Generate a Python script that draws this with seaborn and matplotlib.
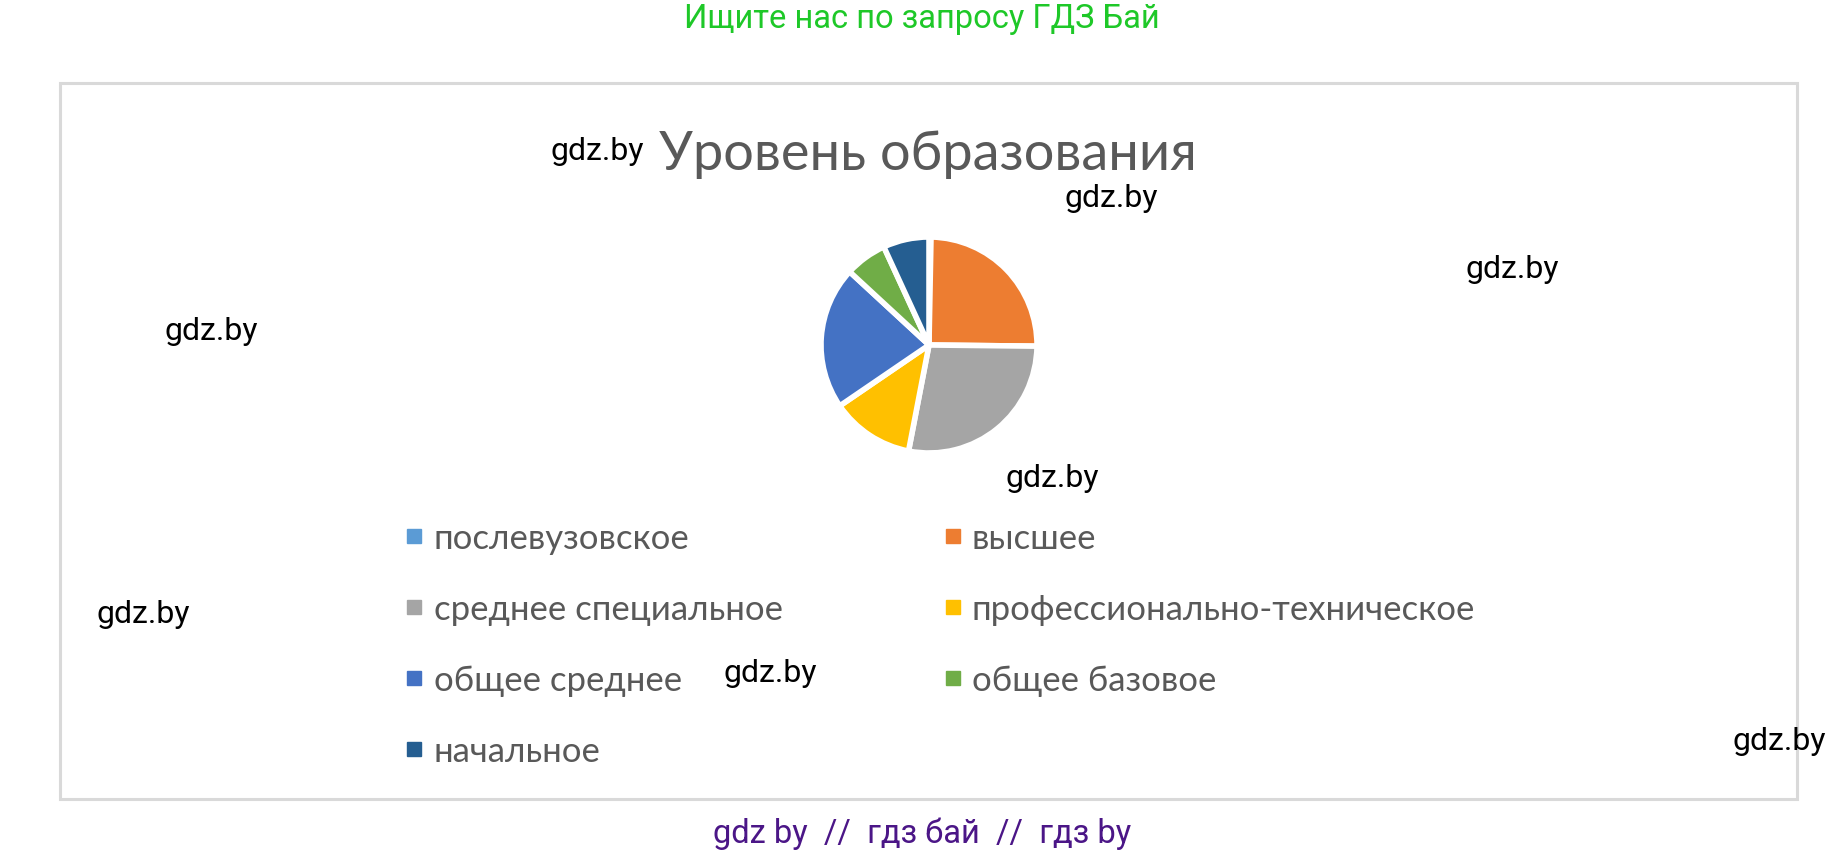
import matplotlib
matplotlib.use("Agg")
import matplotlib.pyplot as plt
from matplotlib.lines import Line2D
from matplotlib.patches import Rectangle
import seaborn as sns

W, H = 1846, 853

# data (percent, clockwise from the top)
categories = ['послевузовское', 'высшее', 'среднее специальное', 'профессионально-техническое',
              'общее среднее', 'общее базовое', 'начальное']
shares = [0.3, 25, 28, 12.5, 21.5, 6.3, 6.9]
office_colors = ['#5B9BD5', '#ED7D31', '#A5A5A5', '#FFC000', '#4472C4', '#70AD47', '#255E91']

chart_title = 'Уровень образования'
top_note = 'Ищите нас по запросу ГДЗ Бай'
bottom_note = 'gdz by  //  гдз бай  //  гдз by'
# watermark (centre x, baseline y) in pixels from top-left
mark_x = [597, 1111, 1512, 211, 1052, 143, 770, 1779]
mark_y = [160, 207, 278, 340, 487, 623, 682, 750]

sns.set_theme(style="white")
plt.rcParams['font.family'] = ['Roboto', 'DejaVu Sans']
palette = sns.color_palette(office_colors)


def fx(px):
    return px / W


def fy(py):
    return 1 - py / H


fig = plt.figure(figsize=(W / 100, H / 100), dpi=100)
fig.patch.set_facecolor('white')

# chart frame
fig.add_artist(Rectangle((fx(60), fy(800)), fx(1797) - fx(60), fy(84) - fy(800),
                         transform=fig.transFigure, fill=False, edgecolor='#D9D9D9', linewidth=2.2))

# pie
cx, cy, r = 929, 346, 108
ax = fig.add_axes([fx(cx - r), fy(cy + r), 2 * r / W, 2 * r / H])
ax.pie(shares, colors=palette, startangle=90, counterclock=False,
       wedgeprops=dict(edgecolor='white', linewidth=4, joinstyle='round'))
ax.set_xlim(-1, 1)
ax.set_ylim(-1, 1)
ax.set_axis_off()

# title
fig.text(fx(928), fy(170), chart_title, ha='center', va='baseline', fontsize=39,
         color='#595959', family=['Lato', 'DejaVu Sans'])

# legend, row-wise in two columns
handles = [Line2D([0], [0], marker='s', linestyle='none', markersize=10,
                  markerfacecolor=c, markeredgecolor=c) for c in palette]
order = [0, 2, 4, 6, 1, 3, 5]
leg = fig.legend([handles[i] for i in order], [categories[i] for i in order],
                 ncol=2, loc='upper left', bbox_to_anchor=(fx(404), fy(523)),
                 frameon=False, borderpad=0, borderaxespad=0, handlelength=0.6,
                 handletextpad=0.25, columnspacing=4.6, labelspacing=1.12,
                 prop={'family': ['Lato', 'DejaVu Sans'], 'size': 25})
for t in leg.get_texts():
    t.set_color('#595959')

# site notes
fig.text(fx(922), fy(28), top_note, ha='center', va='baseline', fontsize=23.5, color='#1EC828')
fig.text(fx(922), fy(843), bottom_note, ha='center', va='baseline', fontsize=23.5, color='#4B1687')
for x, y in zip(mark_x, mark_y):
    fig.text(fx(x), fy(y), 'gdz.by', ha='center', va='baseline', fontsize=23, color='black')

fig.savefig('out.png', dpi=100, facecolor='white')
